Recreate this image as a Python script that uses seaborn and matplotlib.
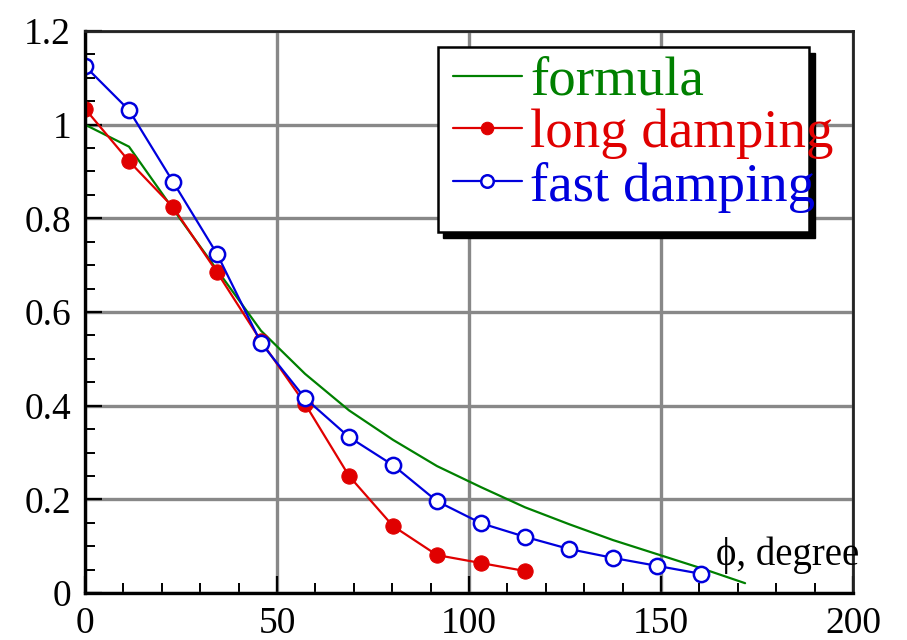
import matplotlib as mpl
mpl.use('Agg')

import matplotlib.pyplot as plt
import pandas as pd
import seaborn as sns
from matplotlib.patches import Rectangle
from matplotlib.ticker import MultipleLocator

# angles (degrees), step of 0.2 rad
phi_formula = [0, 11.46, 22.92, 34.38, 45.84, 57.30, 68.75, 80.21, 91.67,
               103.13, 114.59, 126.05, 137.51, 148.97, 160.43, 171.89]
formula = [1.0, 0.953, 0.82, 0.69, 0.56, 0.468, 0.39, 0.327, 0.271,
           0.226, 0.183, 0.147, 0.113, 0.083, 0.053, 0.021]

phi_long = [0, 11.46, 22.92, 34.38, 45.84, 57.30, 68.75, 80.21, 91.67,
            103.13, 114.59]
long_damping = [1.034, 0.922, 0.824, 0.685, 0.538, 0.404, 0.250, 0.143,
                0.081, 0.064, 0.047]

phi_fast = [0, 11.46, 22.92, 34.38, 45.84, 57.30, 68.75, 80.21, 91.67,
            103.13, 114.59, 126.05, 137.51, 148.97, 160.43]
fast_damping = [1.125, 1.031, 0.878, 0.724, 0.534, 0.416, 0.333, 0.273,
                0.196, 0.149, 0.120, 0.094, 0.075, 0.058, 0.041]

GREEN = '#008000'
RED = '#e00000'
BLUE = '#0000dd'

sns.set_style('ticks')
plt.rcParams['font.family'] = ['Liberation Serif', 'DejaVu Serif']

fig = plt.figure(figsize=(9.07, 6.40), dpi=100)
ax = fig.add_axes([0.0937, 0.0734, 0.8468, 0.8782])

df_f = pd.DataFrame({'phi': phi_formula, 'val': formula})
df_l = pd.DataFrame({'phi': phi_long, 'val': long_damping})
df_s = pd.DataFrame({'phi': phi_fast, 'val': fast_damping})

sns.lineplot(data=df_f, x='phi', y='val', ax=ax, color=GREEN, lw=1.6,
             sort=False, estimator=None, label='formula')
sns.lineplot(data=df_l, x='phi', y='val', ax=ax, color=RED, lw=1.6,
             marker='o', markersize=11, markerfacecolor=RED,
             markeredgecolor=RED, sort=False, estimator=None,
             label='long damping')
sns.lineplot(data=df_s, x='phi', y='val', ax=ax, color=BLUE, lw=1.6,
             marker='o', markersize=11, markerfacecolor='white',
             markeredgecolor=BLUE, markeredgewidth=1.8, sort=False,
             estimator=None, label='fast damping')

ax.set_xlim(0, 200)
ax.set_ylim(0, 1.2)
ax.xaxis.set_major_locator(MultipleLocator(50))
ax.xaxis.set_minor_locator(MultipleLocator(10))
ax.yaxis.set_major_locator(MultipleLocator(0.2))
ax.yaxis.set_minor_locator(MultipleLocator(0.05))
ax.set_yticks([0, 0.2, 0.4, 0.6, 0.8, 1, 1.2])
ax.set_yticklabels(['0', '0.2', '0.4', '0.6', '0.8', '1', '1.2'])
ax.set_xlabel('')
ax.set_ylabel('')

ax.grid(True, which='major', color='#888888', lw=2.4)
ax.set_axisbelow(True)
ax.tick_params(which='major', direction='in', length=12, width=1.6,
               labelsize=27, pad=10, color='black', labelcolor='black')
ax.tick_params(which='minor', direction='in', length=7, width=1.4,
               color='black')
ax.tick_params(top=False, right=False, which='both')

for side in ['left', 'bottom']:
    ax.spines[side].set_color('black')
    ax.spines[side].set_linewidth(2.4)
for side in ['top', 'right']:
    ax.spines[side].set_color('#222222')
    ax.spines[side].set_linewidth(2.0)

# legend box with a solid shadow, text drawn on top
ax.add_patch(Rectangle((0.466, 0.632), 0.484, 0.329, transform=ax.transAxes,
                       facecolor='black', edgecolor='black', zorder=5,
                       clip_on=False))
ax.add_patch(Rectangle((0.459, 0.643), 0.484, 0.329, transform=ax.transAxes,
                       facecolor='white', edgecolor='black', lw=1.8,
                       zorder=5.5, clip_on=False))

leg = ax.legend(loc='upper left', bbox_to_anchor=(0.479, 0.955),
                frameon=False, fontsize=39.5, handlelength=1.26,
                handletextpad=0.15, labelspacing=0.04, borderpad=0,
                borderaxespad=0, labelcolor='linecolor', numpoints=1)
leg.set_zorder(6)
for h in leg.legend_handles:
    h.set_markersize(9)

ax.text(0.822, 0.05, '\u03d5, degree', transform=ax.transAxes,
        fontsize=28, ha='left', va='baseline', color='black', zorder=7)

plt.savefig('out.png', dpi=100)
plt.close()
